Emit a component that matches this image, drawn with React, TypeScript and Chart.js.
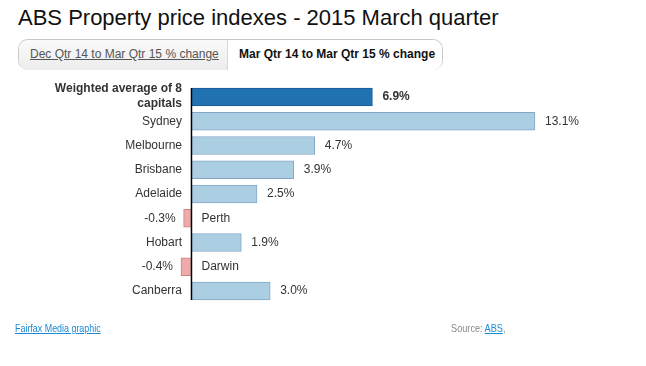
import React, { useEffect, useRef } from "react";
import { Chart, registerables } from "chart.js";

Chart.register(...registerables);

const categories = [
  "Weighted average of 8 capitals",
  "Sydney",
  "Melbourne",
  "Brisbane",
  "Adelaide",
  "Perth",
  "Hobart",
  "Darwin",
  "Canberra",
];
const values = [6.9, 13.1, 4.7, 3.9, 2.5, -0.3, 1.9, -0.4, 3.0];
const valueLabels = ["6.9%", "13.1%", "4.7%", "3.9%", "2.5%", "-0.3%", "1.9%", "-0.4%", "3.0%"];

const FONT = "'Liberation Sans', Arial, sans-serif";

const labelPlugin = {
  id: "labelPlugin",
  afterDatasetsDraw(chart: any) {
    const ctx = chart.ctx;
    const meta = chart.getDatasetMeta(0);
    const xScale = chart.scales.x;
    const zero = xScale.getPixelForValue(0);
    ctx.save();
    ctx.textBaseline = "middle";
    meta.data.forEach((bar: any, i: number) => {
      const v = values[i];
      const y = bar.y;
      const bold = i === 0;
      ctx.fillStyle = "#333";
      ctx.font = (bold ? "bold " : "") + "12px " + FONT;
      // category label
      if (i === 0) {
        ctx.textAlign = "right";
        ctx.fillText("Weighted average of 8", 182, y - 8);
        ctx.fillText("capitals", 182, y + 7);
      } else if (v >= 0) {
        ctx.textAlign = "right";
        ctx.fillText(categories[i], 182, y);
      } else {
        ctx.textAlign = "left";
        ctx.fillText(categories[i], zero + 10, y);
      }
      // value label
      if (v >= 0) {
        ctx.textAlign = "left";
        ctx.fillText(valueLabels[i], bar.x + 10, y);
      } else {
        ctx.textAlign = "right";
        ctx.fillText(valueLabels[i], bar.x - 8, y);
      }
    });
    // axis line
    const first = meta.data[0];
    const last = meta.data[meta.data.length - 1];
    ctx.strokeStyle = "#000";
    ctx.lineWidth = 1.5;
    ctx.beginPath();
    ctx.moveTo(zero, first.y - 9);
    ctx.lineTo(zero, last.y + 9);
    ctx.stroke();
    ctx.restore();
  },
};

export default function App() {
  const ref = useRef<HTMLCanvasElement>(null);
  useEffect(() => {
    if (!ref.current) return;
    const bg = values.map((v, i) => (i === 0 ? "#2172b2" : v < 0 ? "#efaaaa" : "#accee3"));
    const bd = values.map((v, i) => (i === 0 ? "#1a5b94" : v < 0 ? "#c98282" : "#82a8c6"));
    const chart = new Chart(ref.current, {
      type: "bar",
      data: {
        labels: categories,
        datasets: [
          {
            data: values,
            backgroundColor: bg,
            borderColor: bd,
            borderWidth: 1,
            borderSkipped: false,
            barThickness: 18,
          },
        ],
      },
      options: {
        indexAxis: "y",
        responsive: false,
        animation: false,
        devicePixelRatio: 1,
        layout: { padding: { left: 86.6, right: 35, top: 84.9, bottom: 62.9 } },
        plugins: { legend: { display: false }, tooltip: { enabled: false } },
        scales: {
          x: { display: false, min: -4, max: 16 },
          y: { display: false, offset: true },
        },
      },
      plugins: [labelPlugin],
    });
    return () => chart.destroy();
  }, []);

  return (
    <div style={{ position: "absolute", left: 0, top: 0, width: 646, height: 366, background: "#fff", fontFamily: FONT, overflow: "hidden" }}>
      <div style={{ position: "absolute", left: 18, top: 7, fontSize: 22, lineHeight: "22px", color: "#111", whiteSpace: "nowrap" }}>
        ABS Property price indexes - 2015 March quarter
      </div>
      <div
        style={{
          position: "absolute",
          left: 18,
          top: 39,
          width: 423,
          height: 30,
          border: "1px solid #c8c8c8",
          borderBottom: "none",
          borderRadius: 10,
          overflow: "hidden",
          display: "flex",
        }}
      >
        <div
          style={{
            width: 209,
            height: "100%",
            background: "linear-gradient(#fafafa, #ececec)",
            borderRight: "1px solid #d8d8d8",
            fontSize: 12,
            color: "#555",
            textDecoration: "underline",
            paddingLeft: 11,
            boxSizing: "border-box",
            lineHeight: "28px",
            whiteSpace: "nowrap",
          }}
        >
          Dec Qtr 14 to Mar Qtr 15 % change
        </div>
        <div
          style={{
            flex: 1,
            height: "100%",
            background: "#fff",
            fontSize: 12,
            fontWeight: "bold",
            color: "#111",
            paddingLeft: 11,
            boxSizing: "border-box",
            lineHeight: "28px",
            whiteSpace: "nowrap",
          }}
        >
          Mar Qtr 14 to Mar Qtr 15 % change
        </div>
      </div>
      <canvas ref={ref} width={646} height={366} style={{ position: "absolute", left: 0, top: 0, width: 646, height: 366 }} />
      <div style={{ position: "absolute", left: 15, top: 321, fontSize: 11, lineHeight: "14px", color: "#1a8ad4", textDecoration: "underline", whiteSpace: "nowrap", transform: "scaleX(0.81)", transformOrigin: "left center" }}>
        Fairfax Media graphic
      </div>
      <div style={{ position: "absolute", right: 141, top: 321, fontSize: 11, lineHeight: "14px", color: "#888", whiteSpace: "nowrap", transform: "scaleX(0.83)", transformOrigin: "right center" }}>
        Source: <span style={{ color: "#1a8ad4", textDecoration: "underline" }}>ABS</span>,
      </div>
    </div>
  );
}
